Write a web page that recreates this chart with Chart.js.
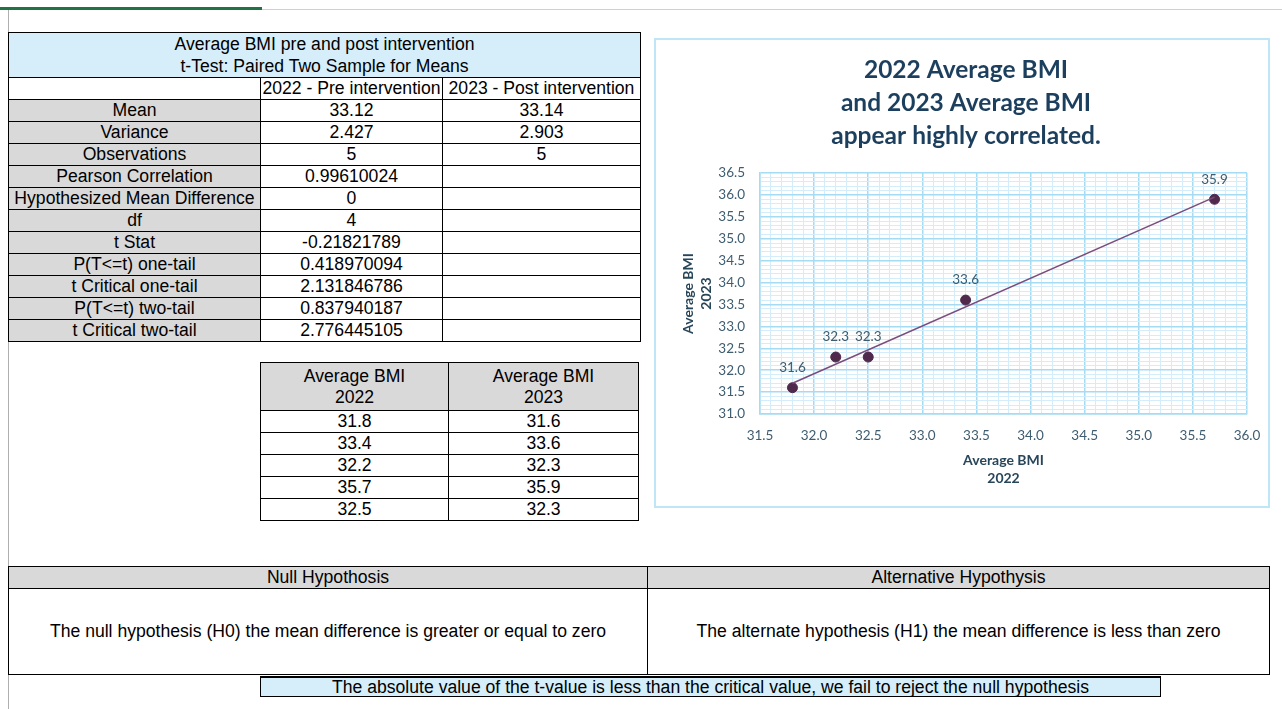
<!DOCTYPE html>
<html>
<head>
<meta charset="utf-8">
<script src="https://cdn.jsdelivr.net/npm/chart.js@4.4.0/dist/chart.umd.min.js"></script>
<style>
body { margin: 0; background: #fff; font-family: 'Liberation Sans', Arial, sans-serif; color: #000; }
.abs { position: absolute; }
table { border-collapse: collapse; table-layout: fixed; font-size: 17.6px; }
td { border: 1px solid #000; text-align: center; padding: 0; line-height: 19px; white-space: nowrap; overflow: hidden; }
.gray { background: #d9d9d9; }
.blue { background: #d5eefa; }
#chartBox { left: 654px; top: 38px; width: 616px; height: 470px; box-sizing: border-box; border: 2px solid #bfe6f7; }
</style>
</head>
<body>
<div class="abs" style="left:0;top:7px;width:262px;height:3px;background:#217346"></div>
<div class="abs" style="left:262px;top:9px;width:1020px;height:1px;background:#d0d0d0"></div>
<div class="abs" style="left:8px;top:10px;width:1px;height:699px;background:#b0b0b0"></div>

<table id="statsTable" class="abs" style="left:8px;top:32px;width:632px">
  <colgroup><col style="width:252px"><col style="width:182px"><col style="width:198px"></colgroup>
  <tbody></tbody>
</table>

<table id="bmiTable" class="abs" style="left:260px;top:362px;width:378px">
  <colgroup><col style="width:188px"><col style="width:190px"></colgroup>
  <tbody></tbody>
</table>

<div id="chartBox" class="abs">
  <canvas id="bmiChart" width="612" height="466"></canvas>
</div>

<table class="abs" style="left:8px;top:566px;width:1261px">
  <colgroup><col style="width:639px"><col style="width:622px"></colgroup>
  <tr><td class="gray" style="height:21px">Null Hypothosis</td><td class="gray">Alternative Hypothysis</td></tr>
  <tr><td style="height:85px">The null hypothesis (H0) the mean difference is greater or equal to zero</td>
      <td>The alternate hypothesis (H1) the mean difference is less than zero</td></tr>
</table>
<div class="abs blue" style="left:260px;top:676px;width:901px;height:21px;box-sizing:border-box;border:1px solid #000;border-top-width:2px;text-align:center;font-size:17.6px;line-height:18px">The absolute value of the t-value is less than the critical value, we fail to reject the null hypothesis</div>

<script>
// t-test output
const tableTitle = ['Average BMI pre and post intervention', 't-Test: Paired Two Sample for Means'];
const columnNames = ['2022 - Pre intervention', '2023 - Post intervention'];
const statLabels = ['Mean', 'Variance', 'Observations', 'Pearson Correlation', 'Hypothesized Mean Difference',
    'df', 't Stat', 'P(T<=t) one-tail', 't Critical one-tail', 'P(T<=t) two-tail', 't Critical two-tail'];
const preValues = ['33.12', '2.427', '5', '0.99610024', '0', '4', '-0.21821789', '0.418970094',
    '2.131846786', '0.837940187', '2.776445105'];
const postValues = ['33.14', '2.903', '5', '', '', '', '', '', '', '', ''];

// raw data
const bmi2022 = [31.8, 33.4, 32.2, 35.7, 32.5];
const bmi2023 = [31.6, 33.6, 32.3, 35.9, 32.3];

// axis ranges
const xMin = 31.5, xMax = 36.0;
const yMin = 31.0, yMax = 36.5;

document.addEventListener('DOMContentLoaded', function() {
    // fill stats table
    const statsBody = document.querySelector('#statsTable tbody');
    let html = `<tr><td class="blue" colspan="3" style="height:43px;line-height:22px">${tableTitle.join('<br>')}</td></tr>`;
    html += `<tr><td style="height:21px"></td><td>${columnNames[0]}</td><td>${columnNames[1]}</td></tr>`;
    statLabels.forEach(function(label, i) {
        const safe = label.replace(/</g, '&lt;');
        html += `<tr><td class="gray" style="height:21px">${safe}</td><td>${preValues[i]}</td><td>${postValues[i]}</td></tr>`;
    });
    statsBody.innerHTML = html;

    // fill raw data table
    const bmiBody = document.querySelector('#bmiTable tbody');
    let rows = `<tr><td class="gray" style="height:47px;line-height:21px">Average BMI<br>2022</td><td class="gray" style="line-height:21px">Average BMI<br>2023</td></tr>`;
    bmi2022.forEach(function(v, i) {
        rows += `<tr><td style="height:21px">${v.toFixed(1)}</td><td>${bmi2023[i].toFixed(1)}</td></tr>`;
    });
    bmiBody.innerHTML = rows;

    renderScatter();
});

// least squares trendline across the data's x range
function trendline(xs, ys) {
    const n = xs.length;
    const mx = xs.reduce((a, b) => a + b, 0) / n;
    const my = ys.reduce((a, b) => a + b, 0) / n;
    let sxy = 0, sxx = 0;
    for (let i = 0; i < n; i++) {
        sxy += (xs[i] - mx) * (ys[i] - my);
        sxx += (xs[i] - mx) * (xs[i] - mx);
    }
    const slope = sxy / sxx;
    const icpt = my - slope * mx;
    const lo = Math.min(...xs), hi = Math.max(...xs);
    return [{ x: lo, y: slope * lo + icpt }, { x: hi, y: slope * hi + icpt }];
}

function isMajor(v) {
    return Math.abs(v * 2 - Math.round(v * 2)) < 1e-6;
}

const majorGrid = '#a6dbf4';
const minorGrid = '#d3eefa';
const tickColor = '#3e5d71';
const chartFont = 'Lato, "Open Sans", sans-serif';

// value labels above the points
const pointLabels = {
    id: 'pointLabels',
    afterDatasetsDraw(chart) {
        const ctx = chart.ctx;
        const meta = chart.getDatasetMeta(1);
        ctx.save();
        ctx.font = '13.5px ' + chartFont;
        ctx.fillStyle = tickColor;
        ctx.textAlign = 'center';
        ctx.textBaseline = 'middle';
        meta.data.forEach(function(pt, i) {
            ctx.fillText(bmi2023[i].toFixed(1), pt.x, pt.y - 20);
        });
        ctx.restore();
    }
};

function gridOpts() {
    return {
        drawTicks: false,
        color: (c) => isMajor(c.tick.value) ? majorGrid : minorGrid,
        lineWidth: (c) => isMajor(c.tick.value) ? 1.5 : 1
    };
}

function renderScatter() {
    const ctx = document.getElementById('bmiChart').getContext('2d');
    const points = bmi2022.map((x, i) => ({ x: x, y: bmi2023[i] }));

    new Chart(ctx, {
        type: 'scatter',
        data: {
            datasets: [{
                type: 'line',
                data: trendline(bmi2022, bmi2023),
                borderColor: '#7a4c7d',
                borderWidth: 1.5,
                pointRadius: 0,
                fill: false
            }, {
                data: points,
                backgroundColor: '#4f2a4d',
                borderColor: '#4f2a4d',
                pointRadius: 5,
                pointHoverRadius: 5
            }]
        },
        options: {
            responsive: false,
            animation: false,
            layout: { padding: { left: 8, right: 0, top: 0, bottom: 0 } },
            plugins: {
                legend: { display: false },
                tooltip: { enabled: false },
                title: {
                    display: true,
                    text: ['2022 Average BMI', 'and 2023 Average BMI', 'appear highly correlated.'],
                    color: '#1c3f5e',
                    font: { family: chartFont, size: 24.5, weight: 'bold', lineHeight: 33 / 24.5 },
                    padding: { top: 13.5, bottom: 20.5 }
                }
            },
            scales: {
                x: {
                    type: 'linear',
                    min: xMin,
                    max: xMax,
                    afterFit: function(scale) { scale.height = 92; scale.paddingRight = 21; },
                    border: { color: majorGrid, width: 1.5 },
                    grid: gridOpts(),
                    ticks: {
                        stepSize: 0.1,
                        autoSkip: false,
                        maxRotation: 0,
                        padding: 14,
                        color: tickColor,
                        font: { family: chartFont, size: 13.5 },
                        callback: (v) => isMajor(v) ? v.toFixed(1) : ''
                    },
                    title: {
                        display: true,
                        text: ['Average BMI', '2022'],
                        color: '#28465a',
                        font: { family: chartFont, size: 14, weight: 'bold', lineHeight: 18 / 14 },
                        padding: { top: 0, bottom: 19 }
                    }
                },
                y: {
                    type: 'linear',
                    min: yMin,
                    max: yMax,
                    afterFit: function(scale) { scale.width = 96; },
                    border: { color: majorGrid, width: 1.5 },
                    grid: gridOpts(),
                    ticks: {
                        stepSize: 0.1,
                        autoSkip: false,
                        padding: 15,
                        color: tickColor,
                        font: { family: chartFont, size: 13.5 },
                        callback: (v) => isMajor(v) ? v.toFixed(1) : ''
                    },
                    title: {
                        display: true,
                        text: ['Average BMI', '2023'],
                        color: '#28465a',
                        font: { family: chartFont, size: 14, weight: 'bold', lineHeight: 18 / 14 },
                        padding: { top: 15, bottom: 0 }
                    }
                }
            }
        },
        plugins: [pointLabels]
    });
}
</script>
</body>
</html>
